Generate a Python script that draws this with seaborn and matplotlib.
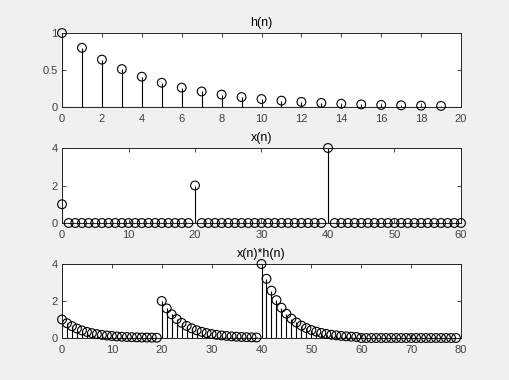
import matplotlib
matplotlib.use("Agg")
import matplotlib.pyplot as plt
import seaborn as sns
import numpy as np

# ---- data ----
h_n = list(range(20))
h_vals = [1.0, 0.8, 0.64, 0.512, 0.4096, 0.3277, 0.2621, 0.2097, 0.1678, 0.1342,
          0.1074, 0.0859, 0.0687, 0.0550, 0.0440, 0.0352, 0.0281, 0.0225, 0.0180, 0.0144]

x_n = list(range(61))
x_vals = [1] + [0] * 19 + [2] + [0] * 19 + [4] + [0] * 20

y_n = list(range(80))
y_vals = [1.0, 0.8, 0.64, 0.512, 0.4096, 0.3277, 0.2621, 0.2097, 0.1678, 0.1342,
          0.1074, 0.0859, 0.0687, 0.0550, 0.0440, 0.0352, 0.0281, 0.0225, 0.0180, 0.0144,
          2.0, 1.6, 1.28, 1.024, 0.8192, 0.6554, 0.5243, 0.4194, 0.3355, 0.2684,
          0.2147, 0.1718, 0.1374, 0.1100, 0.0880, 0.0704, 0.0563, 0.0450, 0.0360, 0.0288,
          4.0, 3.2, 2.56, 2.048, 1.6384, 1.3107, 1.0486, 0.8389, 0.6711, 0.5369,
          0.4295, 0.3436, 0.2749, 0.2199, 0.1759, 0.1407, 0.1126, 0.0901, 0.0721, 0.0576,
          0, 0, 0, 0, 0, 0, 0, 0, 0, 0,
          0, 0, 0, 0, 0, 0, 0, 0, 0, 0]

titles = ["h(n)", "x(n)", "x(n)*h(n)"]
xlims = [(0, 20), (0, 60), (0, 80)]
xticks = [list(range(0, 21, 2)), list(range(0, 61, 10)), list(range(0, 81, 10))]
ylims = [(0, 1), (0, 4), (0, 4)]
yticks = [[0, 0.5, 1], [0, 2, 4], [0, 2, 4]]
yticklabels = [["0", "0.5", "1"], ["0", "2", "4"], ["0", "2", "4"]]

sns.set_style("white")
plt.rcParams['font.family'] = ['Liberation Sans', 'DejaVu Sans']

fig = plt.figure(figsize=(5.09, 3.80), dpi=100)
fig.patch.set_facecolor("#F0F0F0")

W, H = 509, 380
boxes = [(62, 33, 461, 107), (62, 148, 461, 223), (62, 264, 461, 338)]
axc = "#262626"
labc = "#404040"

series = [(h_n, h_vals), (x_n, x_vals), (y_n, y_vals)]
for i, ((n, v), (l, t, r, b)) in enumerate(zip(series, boxes)):
    ax = fig.add_axes([l / W, 1 - b / H, (r - l) / W, (b - t) / H])
    ax.set_facecolor("white")
    ax.vlines(n, 0, v, colors="black", linewidth=0.8, zorder=2)
    ax.axhline(0, color="black", linewidth=0.8, zorder=2)
    sns.scatterplot(x=n, y=v, ax=ax, marker="o", s=40, facecolor="none",
                    edgecolor="black", linewidth=0.8, zorder=3, clip_on=False)
    ax.set_xlim(*xlims[i])
    ax.set_ylim(*ylims[i])
    ax.set_xticks(xticks[i])
    ax.set_yticks(yticks[i])
    ax.set_yticklabels(yticklabels[i])
    ax.tick_params(direction="in", length=3, width=0.6, colors=axc,
                   labelcolor=labc, labelsize=8, top=True, right=True,
                   left=True, bottom=True)
    ax.tick_params(axis="x", pad=5)
    ax.tick_params(axis="y", pad=3)
    for sp in ax.spines.values():
        sp.set_color(axc)
        sp.set_linewidth(0.7)
    ax.set_title(titles[i], fontsize=9, color="black", pad=5)
    ax.set_xlabel("")
    ax.set_ylabel("")

fig.savefig("out.png", dpi=100, facecolor=fig.get_facecolor())
